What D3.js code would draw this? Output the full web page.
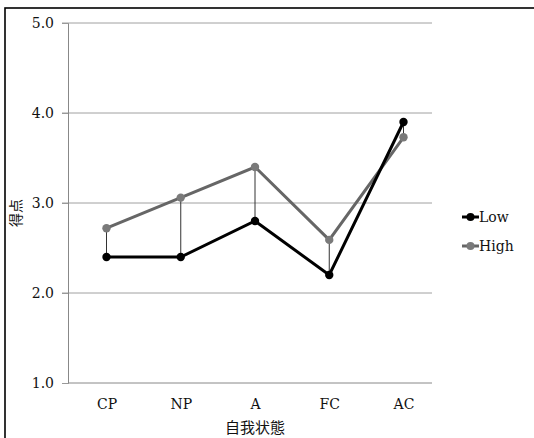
<!DOCTYPE html>
<html><head><meta charset="utf-8">
<script src="https://cdn.jsdelivr.net/npm/d3@7"></script>
<style>
html,body{margin:0;padding:0;background:#fff;}
svg{display:block;}
</style></head>
<body>
<svg id="chart" width="534" height="438"></svg>
<script>
const categories = ["CP", "NP", "A", "FC", "AC"];
const lowValues = [2.4, 2.4, 2.8, 2.2, 3.9];
const highValues = [2.72, 3.06, 3.4, 2.59, 3.73];
const yTicks = [1.0, 2.0, 3.0, 4.0, 5.0];
const seriesNames = ["Low", "High"];

const SERIF = "DejaVu Serif";
const CJK = "Noto Sans CJK JP";

const svg = d3.select("#chart");

// outer frame
svg.append("rect").attr("x", 5).attr("y", 8).attr("width", 560).attr("height", 460)
  .attr("fill", "none").attr("stroke", "#000").attr("stroke-width", 1.6);

const plotL = 68, plotR = 432, plotT = 23, plotB = 383;
const x = d3.scalePoint().domain(categories).range([106.5, 403.5]);
const y = d3.scaleLinear().domain([1, 5]).range([plotB, plotT]);

// gridlines
svg.append("g").selectAll("line").data(yTicks.filter(d => d > 1)).join("line")
  .attr("x1", 62).attr("x2", plotR).attr("y1", d => y(d)).attr("y2", d => y(d))
  .attr("stroke", "#a0a0a0").attr("stroke-width", 1);

// y axis
const yAxis = svg.append("g").attr("transform", `translate(${plotL},0)`)
  .call(d3.axisLeft(y).tickValues(yTicks).tickFormat(d3.format(".1f")).tickSize(6).tickPadding(8));
yAxis.attr("font-family", SERIF).attr("font-size", 14);
yAxis.select(".domain").attr("stroke", "#888");
yAxis.selectAll(".tick line").attr("stroke", "#999");
yAxis.selectAll("text").attr("fill", "#111");

// x axis
svg.append("line").attr("x1", plotL).attr("x2", plotR).attr("y1", plotB).attr("y2", plotB)
  .attr("stroke", "#888");
const xAxis = svg.append("g").attr("transform", `translate(0,${plotB})`)
  .call(d3.axisBottom(x).tickSize(0).tickPadding(16));
xAxis.attr("font-family", SERIF).attr("font-size", 14);
xAxis.select(".domain").remove();
xAxis.selectAll("text").attr("fill", "#111");

// axis titles
svg.append("text").attr("font-family", CJK).attr("x", x("A")).attr("y", 433).attr("text-anchor", "middle")
  .attr("font-size", 15).attr("fill", "#111")
  .text("自我状態");
svg.append("text").attr("font-family", CJK).attr("transform", "translate(21,213) rotate(-90)").attr("text-anchor", "middle")
  .attr("font-size", 14).attr("fill", "#111")
  .text("得点");

// high-low drop lines
svg.append("g").selectAll("line").data(categories).join("line")
  .attr("x1", d => x(d)).attr("x2", d => x(d))
  .attr("y1", (d, i) => y(lowValues[i])).attr("y2", (d, i) => y(highValues[i]))
  .attr("stroke", "#333").attr("stroke-width", 1);

const line = d3.line().x((d, i) => x(categories[i])).y(d => y(d));
const styles = [
  {name: seriesNames[0], vals: lowValues, color: "#000", mark: "#000"},
  {name: seriesNames[1], vals: highValues, color: "#666", mark: "#7a7a7a"}
];
[styles[1], styles[0]].forEach(s => {
  svg.append("path").datum(s.vals).attr("d", line).attr("fill", "none")
    .attr("stroke", s.color).attr("stroke-width", 3).attr("stroke-linejoin", "miter");
  svg.append("g").selectAll("circle").data(s.vals).join("circle")
    .attr("cx", (d, i) => x(categories[i])).attr("cy", d => y(d)).attr("r", 4.2)
    .attr("fill", s.mark);
});

// legend
styles.forEach((s, i) => {
  const ly = 217 + i * 29;
  svg.append("line").attr("x1", 462).attr("x2", 479).attr("y1", ly).attr("y2", ly)
    .attr("stroke", s.color).attr("stroke-width", 3);
  svg.append("circle").attr("cx", 470.5).attr("cy", ly).attr("r", 4).attr("fill", s.mark);
  svg.append("text").attr("font-family", SERIF).attr("x", 479).attr("y", ly + 5)
    .attr("font-size", 14).attr("fill", "#111").text(s.name);
});
</script>
</body></html>
